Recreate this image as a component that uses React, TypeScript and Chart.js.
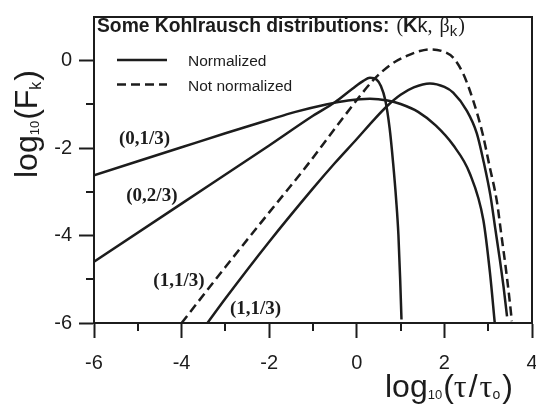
import React, { useEffect, useRef } from 'react';
import { Chart, registerables } from 'chart.js';

Chart.register(...registerables);

// ---- data ----
// (0,1/3) normalized
const aX = [-6, -5, -4, -3, -2, -1.4, -0.7, -0.2, 0.3, 0.7, 1.0, 1.4, 1.8, 2.2, 2.58, 2.89, 3.04, 3.15];
const aY = [-2.62, -2.3, -1.98, -1.66, -1.35, -1.17, -1.0, -0.91, -0.87, -0.91, -0.99, -1.17, -1.48, -1.93, -2.58, -3.65, -4.85, -6.0];
// (0,2/3) normalized
const bX = [-6, -4, -2, -1, -0.5, -0.1, 0.15, 0.3, 0.45, 0.55, 0.65, 0.75, 0.83, 0.9, 0.95, 0.99, 1.02];
const bY = [-4.6, -3.27, -1.94, -1.26, -0.95, -0.64, -0.46, -0.39, -0.43, -0.58, -0.9, -1.55, -2.35, -3.2, -3.98, -5.0, -5.92];
// (1,1/3) normalized
const cX = [-3.41, -3, -2, -1, -0.5, 0, 0.4, 0.7, 1.0, 1.3, 1.67, 2.0, 2.2, 2.51, 2.74, 2.9, 3.05, 3.16, 3.27, 3.35, 3.43];
const cY = [-6.0, -5.44, -4.14, -2.92, -2.34, -1.79, -1.34, -1.03, -0.78, -0.61, -0.52, -0.6, -0.73, -1.14, -1.66, -2.33, -3.08, -3.83, -4.58, -5.17, -5.85];
// (1,1/3) not normalized (dashed)
const dX = [-4.0, -3, -2, -1.14, -0.4, 0, 0.38, 0.76, 1.14, 1.4, 1.67, 2.0, 2.2, 2.43, 2.66, 2.87, 3.03, 3.2, 3.3, 3.4, 3.48, 3.54];
const dY = [-6.0, -4.72, -3.47, -2.4, -1.42, -0.9, -0.44, -0.1, 0.11, 0.21, 0.26, 0.2, 0.07, -0.3, -0.92, -1.66, -2.41, -3.23, -3.98, -4.73, -5.4, -5.96];

const curveLabels = ['(0,1/3)', '(0,2/3)', '(1,1/3)', '(1,1/3)'];
const legendLabels = ['Normalized', 'Not normalized'];
const titleText = 'Some Kohlrausch distributions:';

const xMinorTicks = [-5, -3, -1, 1, 3];
const yMinorTicks = [-5, -3, -1];

const INK = '#1c1c1c';
const SANS = "'Liberation Sans', Arial, sans-serif";
const SERIF = "'Liberation Serif', 'Times New Roman', serif";

const pts = (xs: number[], ys: number[]) => xs.map((x, i) => ({ x, y: ys[i] }));

type Run = { t: string; f: string; dy?: number; gap?: number };
function drawRuns(ctx: CanvasRenderingContext2D, x: number, y: number, runs: Run[]) {
  let cx = x;
  for (const r of runs) {
    ctx.font = r.f;
    cx += r.gap || 0;
    ctx.fillText(r.t, cx, y + (r.dy || 0));
    cx += ctx.measureText(r.t).width;
  }
}

const decor = {
  id: 'decor',
  afterDraw(chart: any) {
    const { ctx, chartArea: ca, scales } = chart;
    const xs = scales.x;
    const ys = scales.y;
    ctx.save();
    ctx.strokeStyle = INK;
    ctx.fillStyle = INK;
    ctx.lineWidth = 2;
    ctx.setLineDash([]);
    // top and right frame
    const top = Math.round(ca.top);
    const right = Math.round(ca.right);
    const bottom = Math.round(ca.bottom);
    const left = Math.round(ca.left);
    ctx.beginPath();
    ctx.moveTo(left, top);
    ctx.lineTo(right, top);
    ctx.lineTo(right, bottom + 1);
    ctx.stroke();
    // minor ticks
    ctx.beginPath();
    for (const v of xMinorTicks) {
      const p = Math.round(xs.getPixelForValue(v));
      ctx.moveTo(p, bottom);
      ctx.lineTo(p, bottom + 8);
    }
    for (const v of yMinorTicks) {
      const p = Math.round(ys.getPixelForValue(v));
      ctx.moveTo(left, p);
      ctx.lineTo(left - 8, p);
    }
    ctx.stroke();

    // legend
    ctx.lineWidth = 2.5;
    ctx.beginPath();
    ctx.moveTo(117, 60);
    ctx.lineTo(167, 60);
    ctx.stroke();
    ctx.setLineDash([9, 5]);
    ctx.beginPath();
    ctx.moveTo(117, 84.5);
    ctx.lineTo(167, 84.5);
    ctx.stroke();
    ctx.setLineDash([]);
    ctx.textAlign = 'left';
    ctx.textBaseline = 'alphabetic';
    ctx.font = `15.5px ${SANS}`;
    ctx.fillText(legendLabels[0], 188, 65.8);
    ctx.fillText(legendLabels[1], 188, 90.7);

    // title
    drawRuns(ctx, 97, 31.5, [
      { t: titleText, f: `bold 19.3px ${SANS}` },
      { t: '(', f: `20px ${SERIF}`, gap: 7 },
      { t: 'K', f: `bold 20px ${SANS}` },
      { t: 'k', f: `20px ${SANS}` },
      { t: ', ', f: `20px ${SERIF}` },
      { t: 'β', f: `20px ${SERIF}`, gap: 2 },
      { t: 'k', f: `15px ${SANS}`, dy: 4 },
      { t: ')', f: `20px ${SERIF}`, gap: 1 },
    ]);

    // curve labels (anchored in data units)
    const anchors = [
      [-5.43, -1.905],
      [-5.263, -3.207],
      [-4.646, -5.159],
      [-2.895, -5.787],
    ];
    ctx.font = `bold 19px ${SERIF}`;
    curveLabels.forEach((t, i) => {
      ctx.fillText(t, xs.getPixelForValue(anchors[i][0]), ys.getPixelForValue(anchors[i][1]));
    });

    // x axis title
    drawRuns(ctx, 385, 397, [
      { t: 'log', f: `32px ${SANS}` },
      { t: '10', f: `13px ${SANS}`, dy: 2 },
      { t: '(', f: `32px ${SANS}`, gap: 1 },
      { t: 'τ', f: `32px ${SERIF}` },
      { t: '/', f: `32px ${SANS}`, gap: 2 },
      { t: 'τ', f: `32px ${SERIF}`, gap: 2 },
      { t: 'o', f: `14px ${SANS}`, dy: 2 },
      { t: ')', f: `32px ${SANS}`, gap: 2 },
    ]);

    // y axis title (rotated)
    ctx.translate(37, 178);
    ctx.rotate(-Math.PI / 2);
    drawRuns(ctx, 0, 0, [
      { t: 'log', f: `32px ${SANS}` },
      { t: '10', f: `13px ${SANS}`, dy: 2 },
      { t: '(', f: `32px ${SANS}`, gap: 1 },
      { t: 'F', f: `32px ${SANS}` },
      { t: 'k', f: `16px ${SANS}`, dy: 4 },
      { t: ')', f: `32px ${SANS}`, gap: 1 },
    ]);
    ctx.restore();
  },
};

export default function App() {
  const ref = useRef<HTMLCanvasElement | null>(null);
  useEffect(() => {
    if (!ref.current) return;
    const line = (xs: number[], ys: number[], dash: number[] = []) => ({
      data: pts(xs, ys),
      borderColor: INK,
      backgroundColor: INK,
      borderWidth: 2.5,
      borderDash: dash,
      pointRadius: 0,
      fill: false,
      cubicInterpolationMode: 'monotone' as const,
    });
    const tickFont = { family: SANS, size: 20, lineHeight: 1 };
    const chart = new Chart(ref.current, {
      type: 'line',
      data: {
        datasets: [line(aX, aY), line(bX, bY), line(cX, cY), line(dX, dY, [9, 5])],
      },
      options: {
        animation: false,
        responsive: false,
        devicePixelRatio: 1,
        layout: { padding: { left: 0, top: 11, right: 28, bottom: 0 } },
        plugins: { legend: { display: false }, tooltip: { enabled: false } },
        scales: {
          x: {
            type: 'linear',
            min: -6,
            max: 4,
            ticks: { stepSize: 2, font: tickFont, color: INK, padding: 15, maxRotation: 0 },
            grid: { display: true, drawOnChartArea: false, drawTicks: true, tickLength: 15, tickWidth: 2, tickColor: INK, color: INK },
            border: { display: true, color: INK, width: 2 },
            afterFit: (s: any) => { s.height = 84; },
          },
          y: {
            type: 'linear',
            min: -6,
            max: 1,
            ticks: { stepSize: 2, includeBounds: false, font: tickFont, color: INK, padding: 7 },
            grid: { display: true, drawOnChartArea: false, drawTicks: true, tickLength: 15, tickWidth: 2, tickColor: INK, color: INK },
            border: { display: true, color: INK, width: 2 },
            afterFit: (s: any) => { s.width = 94; },
          },
        },
      },
      plugins: [decor],
    });
    return () => chart.destroy();
  }, []);
  return (
    <div style={{ position: 'fixed', left: 0, top: 0, width: 536, height: 407, overflow: 'hidden', background: '#fff' }}>
      <canvas ref={ref} width={560} height={407} style={{ width: 560, height: 407, display: 'block' }} />
    </div>
  );
}
